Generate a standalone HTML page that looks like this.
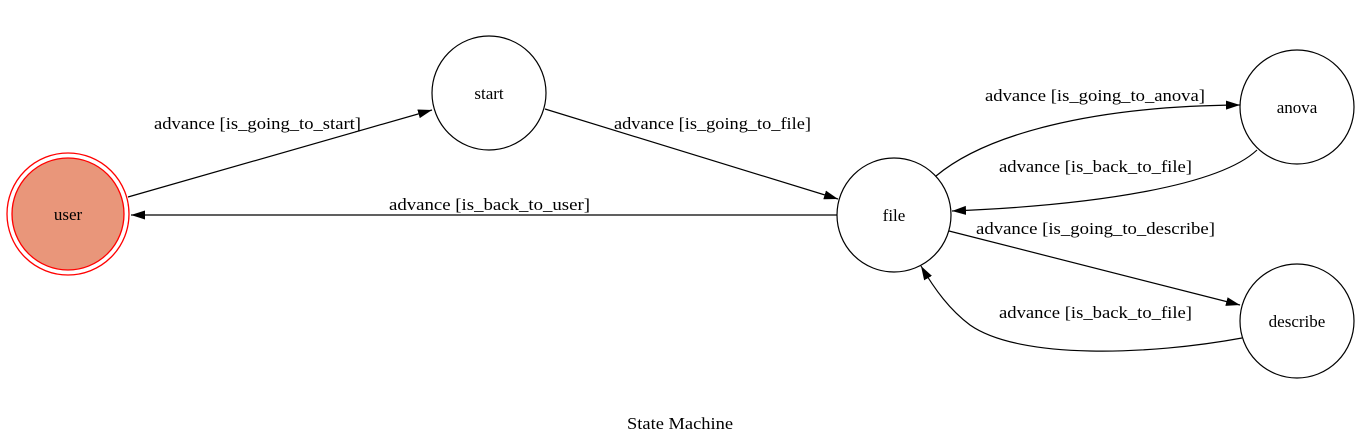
<!DOCTYPE html>
<html><head><style>html,body{margin:0;padding:0;background:#fff;}svg{display:block}</style></head><body>
<svg width="1360" height="446" viewBox="0 0 1360 446" xmlns="http://www.w3.org/2000/svg" font-family="'Liberation Serif', serif" font-size="17">
<defs><marker id="a" viewBox="0 0 14 10" refX="14" refY="5" markerWidth="14" markerHeight="10" markerUnits="userSpaceOnUse" orient="auto"><path d="M0,0.5 L14,5 L0,9.5 z" fill="#000"/></marker></defs>
<rect width="1360" height="446" fill="#fff"/>
<circle cx="68" cy="214" r="61" fill="none" stroke="red" stroke-width="1.3"/>
<circle cx="68" cy="214" r="56" fill="#e9967a" stroke="red" stroke-width="1.3"/>
<text x="68" y="220" text-anchor="middle">user</text>
<circle cx="489" cy="93" r="57" fill="none" stroke="#000" stroke-width="1.2"/>
<text x="489" y="99" text-anchor="middle">start</text>
<circle cx="894" cy="215" r="57" fill="none" stroke="#000" stroke-width="1.2"/>
<text x="894" y="221" text-anchor="middle">file</text>
<circle cx="1297" cy="107" r="57" fill="none" stroke="#000" stroke-width="1.2"/>
<text x="1297" y="113" text-anchor="middle">anova</text>
<circle cx="1297" cy="321" r="57" fill="none" stroke="#000" stroke-width="1.2"/>
<text x="1297" y="327" text-anchor="middle">describe</text>
<g fill="none" stroke="#000" stroke-width="1.2" marker-end="url(#a)">
<path d="M128,197 L432,110"/>
<path d="M545,109 L838,199"/>
<path d="M837,215 L131,215"/>
<path d="M936,176 C985,135 1090,106 1240,105"/>
<path d="M1257,150 C1220,185 1100,205 952,211"/>
<path d="M949,231 L1240,305"/>
<path d="M1242,338 C1150,355 1020,360 970,325 C950,310 935,290 921,266"/>
</g>
<text x="154" y="129" textLength="207" lengthAdjust="spacingAndGlyphs">advance [is_going_to_start]</text>
<text x="614" y="129" textLength="197" lengthAdjust="spacingAndGlyphs">advance [is_going_to_file]</text>
<text x="389" y="210" textLength="201" lengthAdjust="spacingAndGlyphs">advance [is_back_to_user]</text>
<text x="985" y="101" textLength="220" lengthAdjust="spacingAndGlyphs">advance [is_going_to_anova]</text>
<text x="999" y="172" textLength="193" lengthAdjust="spacingAndGlyphs">advance [is_back_to_file]</text>
<text x="976" y="234" textLength="239" lengthAdjust="spacingAndGlyphs">advance [is_going_to_describe]</text>
<text x="999" y="318" textLength="193" lengthAdjust="spacingAndGlyphs">advance [is_back_to_file]</text>
<text x="627" y="429" textLength="106" lengthAdjust="spacingAndGlyphs">State Machine</text>
</svg>
</body></html>
